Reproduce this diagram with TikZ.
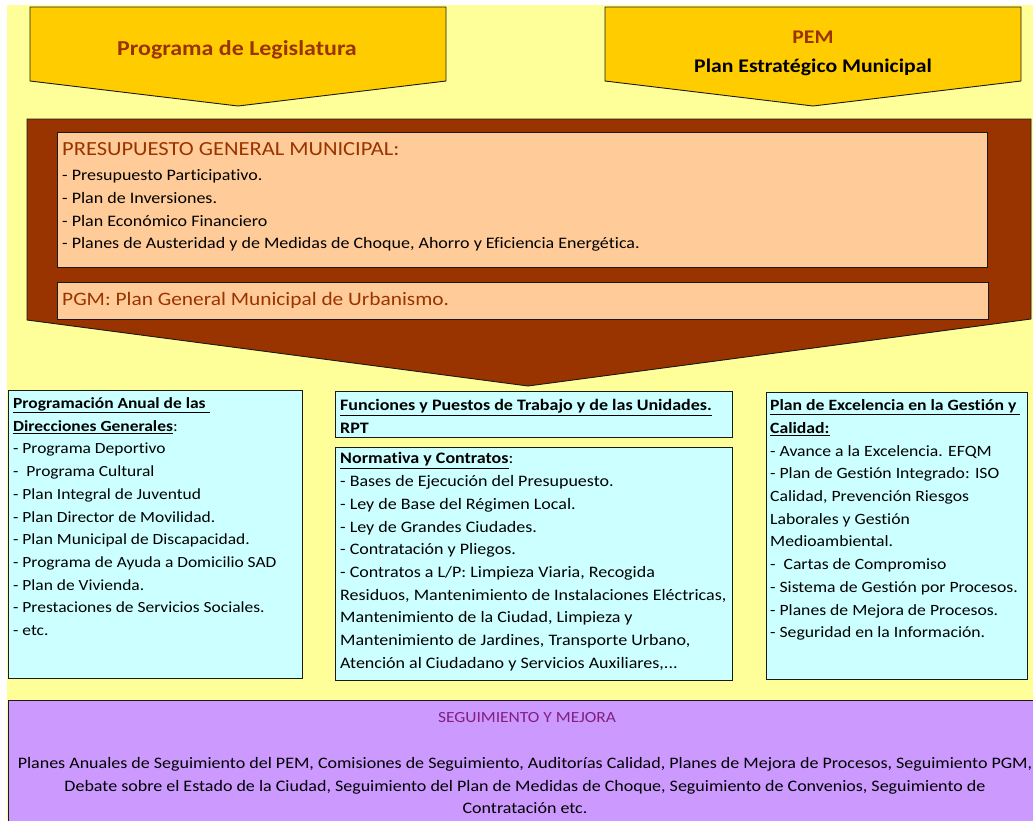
\documentclass[tikz,border=0pt]{standalone}
\usepackage{fontspec}
\setmainfont{Carlito}[FakeStretch=1.125,RawFeature={-liga}]
\definecolor{bgyel}{HTML}{FFFF99}
\definecolor{arrowyel}{HTML}{FFCC00}
\definecolor{brownc}{HTML}{993300}
\definecolor{peach}{HTML}{FFCC99}
\definecolor{cyanbox}{HTML}{CCFFFF}
\definecolor{purplebox}{HTML}{CC99FF}
\definecolor{purpletxt}{HTML}{80207F}
\definecolor{edge}{HTML}{1A1A1A}
\newcommand{\ul}[1]{\underline{#1}}
\begin{document}
\begin{tikzpicture}[x=1pt,y=-1pt,
  outl/.style={draw=edge,line width=0.9pt},
  txt/.style={inner sep=0pt,anchor=north west,align=left,font=\fontsize{15.7}{22.7}\selectfont},
  ttl/.style={inner sep=0pt,text=brownc}]
\useasboundingbox (0,0) rectangle (1033,820);
\fill[white] (0,0) rectangle (1033,820);
\fill[bgyel] (7,5) rectangle (1033,820);
% top arrows
\draw[outl,fill=arrowyel] (30,7) -- (446,7) -- (446,81) -- (238,106) -- (30,81) -- cycle;
\node[inner sep=0pt,font=\fontsize{21.3}{24}\selectfont\bfseries,text=brownc] (leg) at (237,50) {Programa de Legislatura};
\draw[outl,fill=arrowyel] (605,7) -- (1021,7) -- (1021,81) -- (813,106) -- (605,81) -- cycle;
\node[inner sep=0pt,font=\fontsize{19.3}{22}\selectfont\bfseries,text=brownc] (pem) at (813,37) {PEM};
\node[inner sep=0pt,font=\fontsize{19.3}{22}\selectfont\bfseries] (pemt) at (813,67) {Plan Estratégico Municipal};
% brown block
\draw[outl,fill=brownc] (27,119) -- (1031,119) -- (1031,319) -- (528,386) -- (27,320) -- cycle;
\draw[outl,fill=peach] (57,132) rectangle (987,267);
\draw[outl,fill=peach] (57,282) rectangle (988,319);
\node[ttl,anchor=base west,font=\fontsize{20}{22}\selectfont] (pgmt) at (62,155) {PRESUPUESTO GENERAL MUNICIPAL:};
\node[txt,font=\fontsize{16}{22.7}\selectfont] (pgml) at (62,169.5) {- Presupuesto Participativo.\\- Plan de Inversiones.\\- Plan Económico Financiero\\- Planes de Austeridad y de Medidas de Choque, Ahorro y Eficiencia Energética.};
\node[ttl,anchor=base west,font=\fontsize{19}{22}\selectfont] (urb) at (62,305) {PGM: Plan General Municipal de Urbanismo.};
% cyan boxes
\draw[outl,fill=cyanbox] (8,390) rectangle (302,678);
\draw[outl,fill=cyanbox] (335,391) rectangle (732,437);
\draw[outl,fill=cyanbox] (335,447) rectangle (732,680);
\draw[outl,fill=cyanbox] (766,392) rectangle (1027,679);
\node[txt,font=\fontsize{15.5}{22.7}\selectfont] (left) at (13,397.5) {\textbf{\ul{Programación Anual de las\ }}\\\textbf{\ul{Direcciones Generales}}:\\- Programa Deportivo\\-\ \ Programa Cultural\\- Plan Integral de Juventud\\- Plan Director de Movilidad.\\- Plan Municipal de Discapacidad.\\- Programa de Ayuda a Domicilio SAD\\- Plan de Vivienda.\\- Prestaciones de Servicios Sociales.\\- etc.};
\node[txt,font=\fontsize{16}{22.7}\selectfont] (rpt) at (340,399.5) {\textbf{\ul{Funciones y Puestos de Trabajo y de las Unidades.}}\\\textbf{RPT}};
\node[txt,font=\fontsize{16}{22.7}\selectfont] (norm) at (340,452.5) {\textbf{\ul{Normativa y Contratos}}:\\- Bases de Ejecución del Presupuesto.\\- Ley de Base del Régimen Local.\\- Ley de Grandes Ciudades.\\- Contratación y Pliegos.\\- Contratos a L/P: Limpieza Viaria, Recogida\\Residuos, Mantenimiento de Instalaciones Eléctricas,\\Mantenimiento de la Ciudad, Limpieza y\\Mantenimiento de Jardines, Transporte Urbano,\\Atención al Ciudadano y Servicios Auxiliares,...};
\node[txt] (exc) at (770,399.5) {\textbf{\ul{Plan de Excelencia en la Gestión y\ }}\\\textbf{\ul{Calidad:}}\\- Avance a la Excelencia. EFQM\\- Plan de Gestión Integrado: ISO\\Calidad, Prevención Riesgos\\Laborales y Gestión\\Medioambiental.\\-\ \ Cartas de Compromiso\\- Sistema de Gestión por Procesos.\\- Planes de Mejora de Procesos.\\- Seguridad en la Información.};
% purple box
\draw[outl,fill=purplebox] (8,700) rectangle (1040,825);
\node[inner sep=0pt,font=\fontsize{15.5}{17}\selectfont,text=purpletxt] (seg) at (527,718) {SEGUIMIENTO Y MEJORA};
\node[inner sep=0pt,anchor=north,align=center,font=\fontsize{16}{22.7}\selectfont] (segl) at (525,757) {Planes Anuales de Seguimiento del PEM, Comisiones de Seguimiento, Auditorías Calidad, Planes de Mejora de Procesos, Seguimiento PGM,\\Debate sobre el Estado de la Ciudad, Seguimiento del Plan de Medidas de Choque, Seguimiento de Convenios, Seguimiento de\\Contratación etc.};
\end{tikzpicture}
\end{document}
